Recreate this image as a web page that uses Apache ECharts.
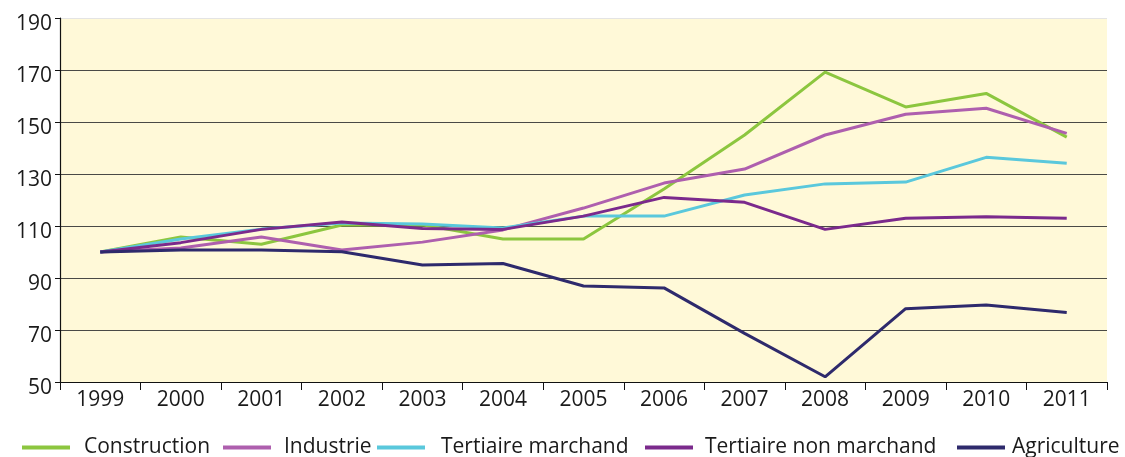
<!DOCTYPE html>
<html>
<head>
<meta charset="utf-8">
<script src="https://cdn.jsdelivr.net/npm/echarts@6/dist/echarts.min.js"></script>
<style>
  html, body { margin: 0; padding: 0; background: #fff; }
  #chart { width: 1125px; height: 457px; }
</style>
</head>
<body>
<div id="chart"></div>
<script>
const years = ['1999', '2000', '2001', '2002', '2003', '2004', '2005', '2006', '2007', '2008', '2009', '2010', '2011']
const construction = [100, 105.8, 103, 110.4, 110.5, 105, 105, 124.2, 145, 169.2, 155.8, 161, 144.2]
const industrie = [100, 101.5, 105.8, 100.8, 103.8, 108.5, 116.9, 126.5, 131.9, 145, 153, 155.3, 145.6]
const tertiaireMarchand = [100, 105, 108.8, 111.2, 110.8, 109.2, 113.8, 113.8, 121.9, 126.2, 126.9, 136.4, 134.1]
const tertiaireNonMarchand = [100, 103.6, 108.7, 111.5, 109, 108.7, 113.8, 121, 119.1, 108.7, 113, 113.6, 113]
const agriculture = [100, 100.8, 100.8, 100.1, 95, 95.6, 86.9, 86.2, 68.7, 52, 78.2, 79.6, 76.7]

const seriesNames = ['Construction', 'Industrie', 'Tertiaire marchand', 'Tertiaire non marchand', 'Agriculture']
const seriesValues = [construction, industrie, tertiaireMarchand, tertiaireNonMarchand, agriculture]
const COLORS = ['#8CC63F', '#AE5FAE', '#5AC8DC', '#7B2A8C', '#2E2A6C']

const FONT = '"Open Sans", sans-serif'

// one legend per item so each can sit where the original puts it
const legendLefts = [22, 223, 377, 645, 957]
const legendGaps = [14, 13, 16, 12, 7]

const chart = echarts.init(document.getElementById('chart'))

chart.setOption({
  animation: false,
  color: COLORS,
  grid: {
    left: 60,
    right: 18,
    top: 18,
    bottom: 75,
    show: true,
    backgroundColor: '#FFF9D8',
    borderWidth: 0,
  },
  legend: seriesNames.map((name, i) => ({
    data: [name],
    left: legendLefts[i],
    top: 437,
    icon: 'rect',
    itemWidth: 48,
    itemHeight: 4,
    padding: 0,
    textStyle: {
      fontFamily: FONT,
      fontSize: 21,
      color: '#1a1a1a',
      padding: [0, 0, 0, legendGaps[i] - 5],
    },
  })),
  xAxis: {
    type: 'category',
    data: years,
    boundaryGap: true,
    axisLine: { lineStyle: { color: '#111', width: 1.2 } },
    axisTick: { show: true, length: 8, alignWithLabel: false, lineStyle: { color: '#111' } },
    axisLabel: {
      fontFamily: FONT,
      fontSize: 21,
      color: '#1a1a1a',
      margin: 8,
      verticalAlign: 'top',
    },
    splitLine: { show: false },
  },
  yAxis: {
    type: 'value',
    min: 50,
    max: 190,
    interval: 20,
    axisLine: { show: true, lineStyle: { color: '#111', width: 1.2 } },
    axisTick: { show: true, length: 5, inside: false, lineStyle: { color: '#111' } },
    axisLabel: {
      fontFamily: FONT,
      fontSize: 21,
      color: '#1a1a1a',
      margin: 8,
      verticalAlign: 'top',
      lineHeight: 12,
    },
    splitLine: {
      show: true,
      lineStyle: {
        color: ['#111', '#4a4a46', '#4a4a46', '#4a4a46', '#4a4a46', '#4a4a46', '#4a4a46', '#e4e4e4'],
        width: 1.2,
      },
    },
  },
  series: seriesNames.map((name, i) => ({
    name,
    type: 'line',
    data: seriesValues[i],
    symbol: 'none',
    showSymbol: false,
    lineStyle: { width: 3, color: COLORS[i] },
    itemStyle: { color: COLORS[i] },
  })),
})
</script>
</body>
</html>
